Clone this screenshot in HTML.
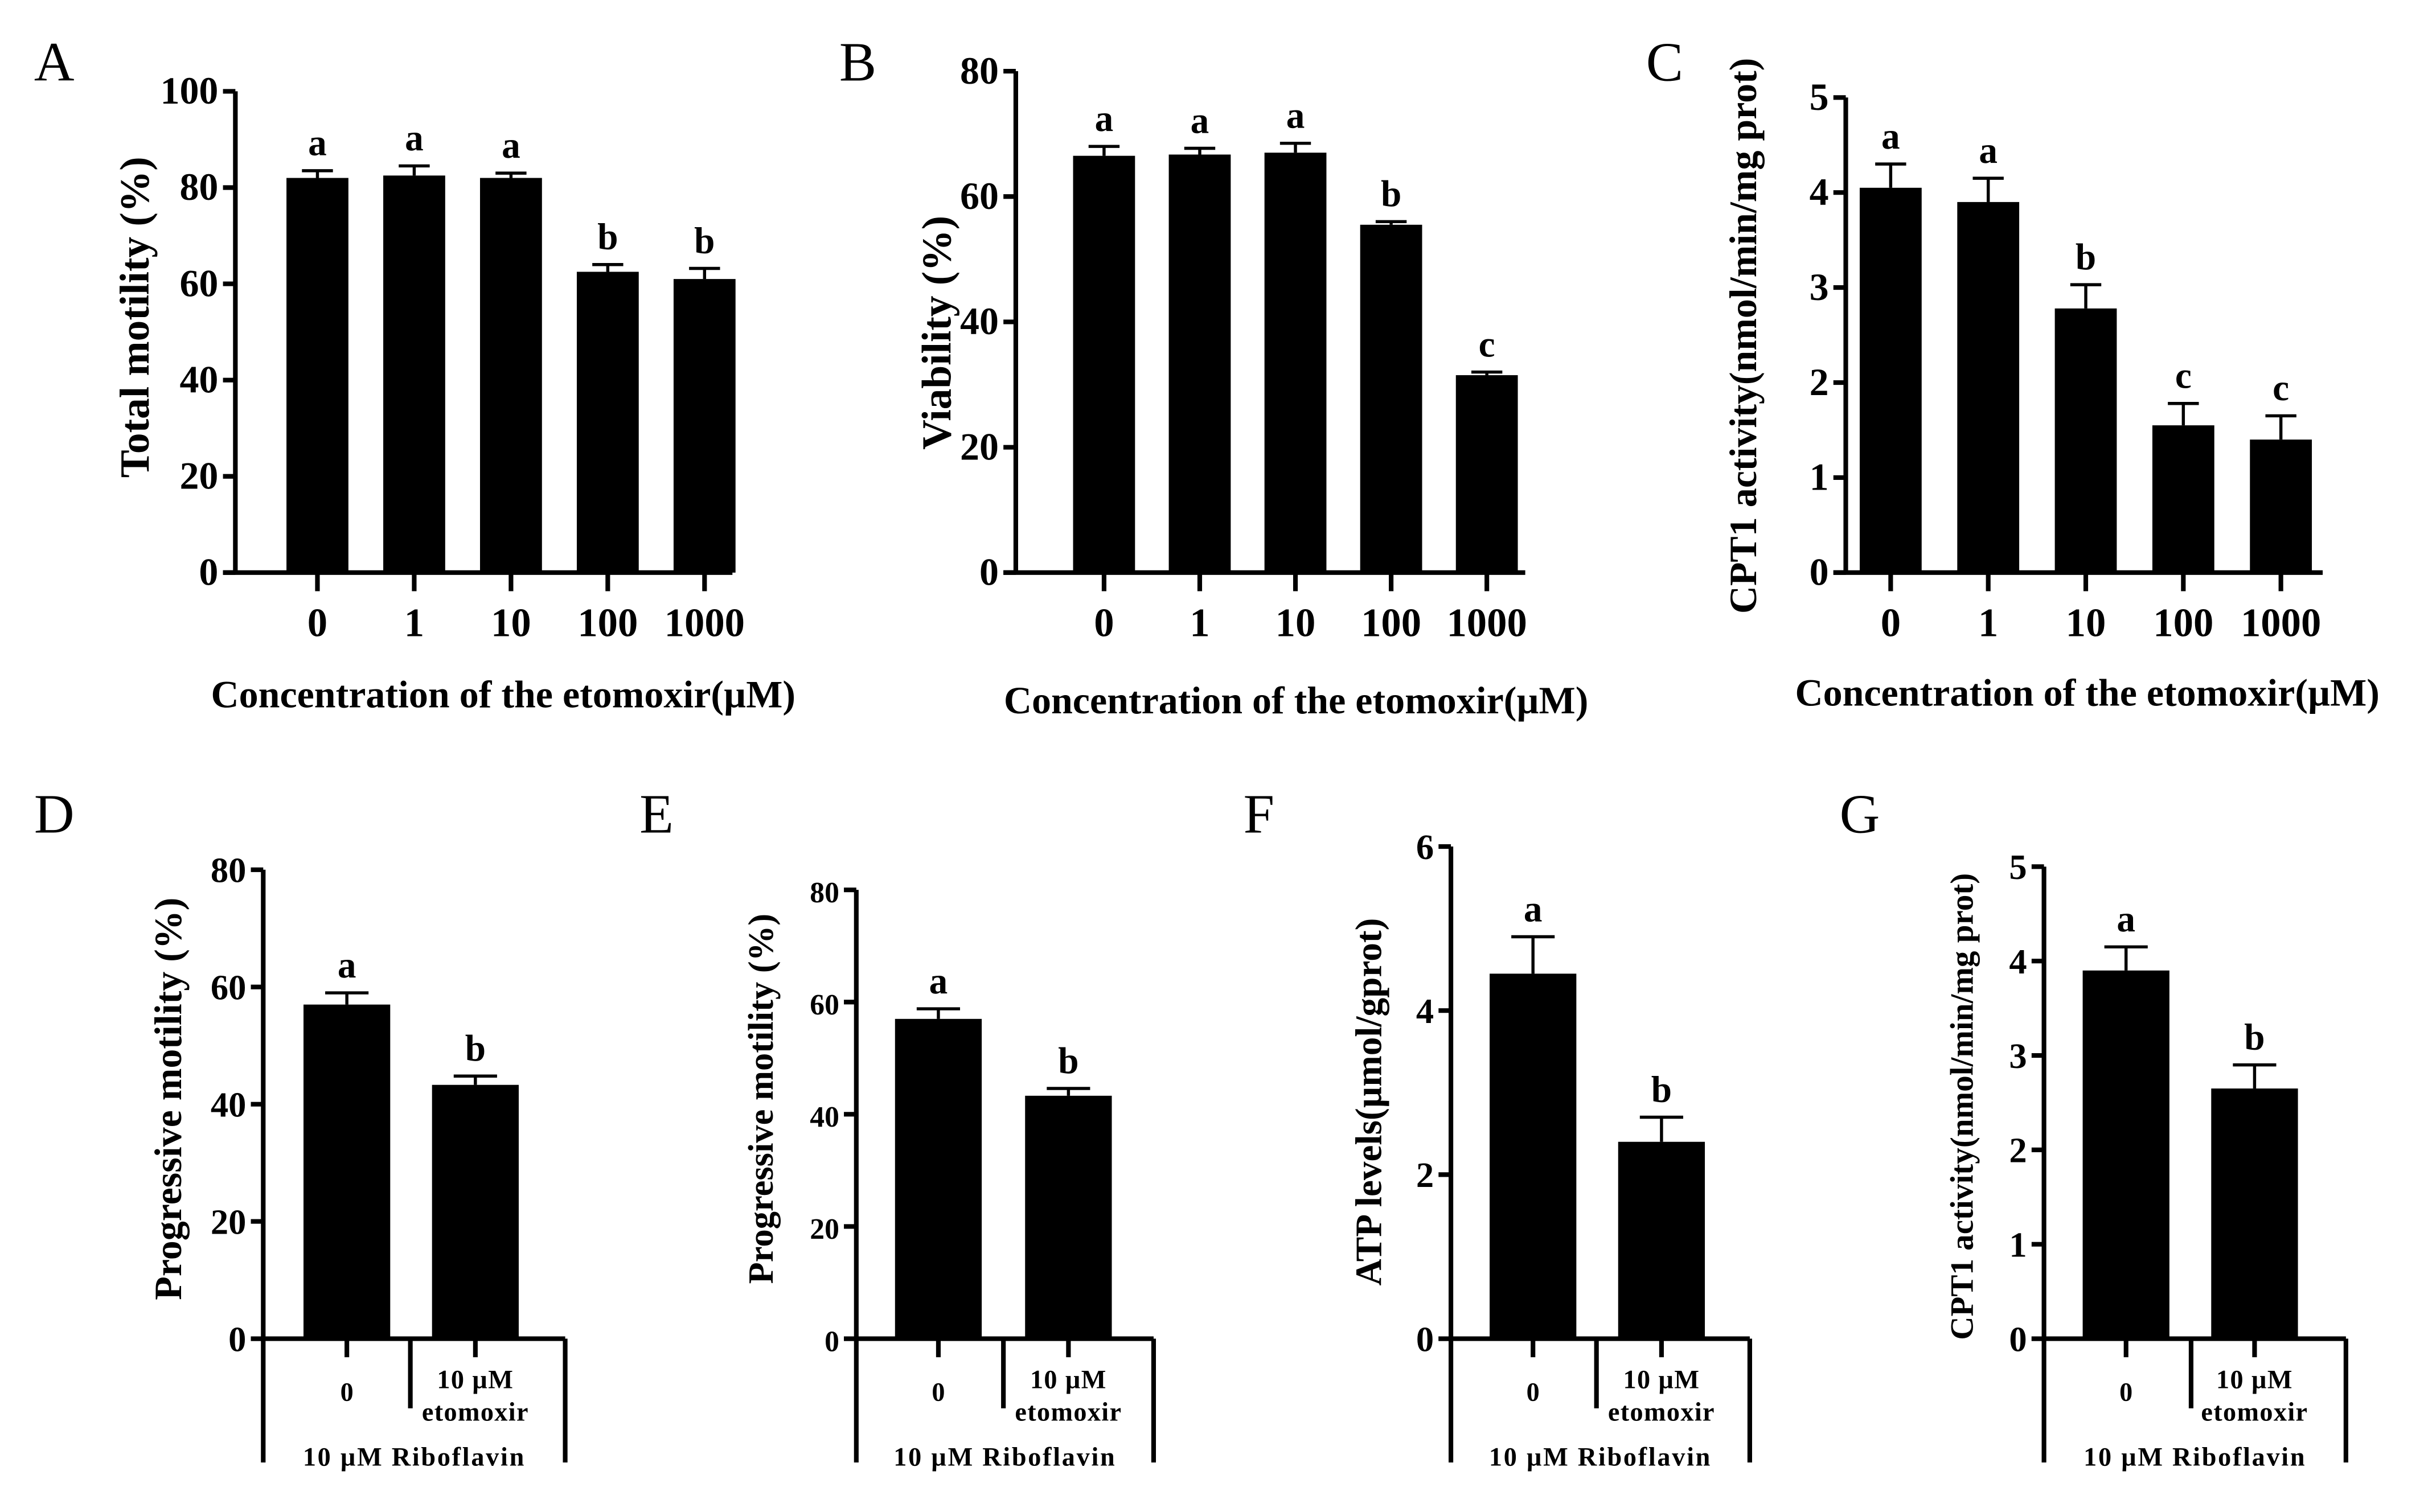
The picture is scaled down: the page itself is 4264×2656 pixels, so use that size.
<!DOCTYPE html>
<html><head><meta charset="utf-8">
<style>
html,body{margin:0;padding:0;background:#fff;}
svg{display:block;}
text{font-family:"Liberation Serif",serif;}
</style></head>
<body>
<svg id="fig" xmlns="http://www.w3.org/2000/svg" width="4264" height="2656" viewBox="0 0 1568 977" preserveAspectRatio="none"></svg>
<script>
// ---- data ----
const catsTop = ["0","1","10","100","1000"];
const catsBottom = ["0","10 µM|etomoxir"];
const valsA = [82, 82.5, 82, 62.5, 61];
const errsA = [1.5, 2, 1, 1.5, 2.2];
const sigA = ["a","a","a","b","b"];
const ticksA = [0,20,40,60,80,100];
const valsB = [66.5, 66.7, 67, 55.5, 31.5];
const errsB = [1.5, 1, 1.5, 0.5, 0.5];
const sigB = ["a","a","a","b","c"];
const ticksB = [0,20,40,60,80];
const valsC = [4.05, 3.9, 2.78, 1.55, 1.4];
const errsC = [0.25, 0.25, 0.25, 0.23, 0.25];
const sigC = ["a","a","b","c","c"];
const ticksC = [0,1,2,3,4,5];
const valsD = [57, 43.3];
const errsD = [2, 1.5];
const valsE = [57, 43.3];
const errsE = [1.8, 1.3];
const valsF = [4.45, 2.4];
const errsF = [0.45, 0.3];
const valsG = [3.9, 2.65];
const errsG = [0.25, 0.25];
const sigAB = ["a","b"];
const ticks80 = [0,20,40,60,80];
const ticks6 = [0,2,4,6];

const NS = "http://www.w3.org/2000/svg";
const svg = document.getElementById('fig');
function el(tag, attrs, parent, txt){
  const e = document.createElementNS(NS, tag);
  for (const k in attrs) e.setAttribute(k, attrs[k]);
  if (txt !== undefined) e.textContent = txt;
  (parent||svg).appendChild(e);
  return e;
}

function panel(cfg){
  const g = el('g', {});
  
  
  const ymax = cfg.ticks[cfg.ticks.length-1];
  const y = v => cfg.y0 - (v / ymax) * (cfg.y0 - cfg.ytop);
  const x = i => cfg.x0c + i * cfg.step;
  const L = el('text', {x: cfg.lx, y: cfg.ly, 'font-size': 36, fill: '#000'}, g, cfg.id);
  
  
  const ya = el('line', {x1: cfg.ax, y1: cfg.ytop, x2: cfg.ax, y2: cfg.y0 + (cfg.bracket ? 80 : 0), stroke: '#000', 'stroke-width': 3}, g);
  
  
  cfg.ticks.forEach(t => {
    el('line', {x1: cfg.ax - 8, y1: y(t), x2: cfg.ax, y2: y(t), stroke: '#000', 'stroke-width': 3}, g);
    const tl = el('text', {x: cfg.ax - 11, y: y(t) + 8, 'font-size': cfg.tfs, 'font-weight': 'bold', 'text-anchor': 'end'}, g, String(t));
    
    
  });
  const xa = el('line', {x1: cfg.ax - 8, y1: cfg.y0, x2: cfg.xend, y2: cfg.y0, stroke: '#000', 'stroke-width': 3}, g);
  
  
  cfg.vals.forEach((v, i) => {
    const cx = x(i);
    const top = y(v);
    const r = el('rect', {x: cx - cfg.bw/2, y: top, width: cfg.bw, height: cfg.y0 - top, fill: '#000'}, g);
    
    
    const et = y(v + cfg.errs[i]);
    el('line', {x1: cx, y1: top, x2: cx, y2: et, stroke: '#000', 'stroke-width': 2}, g);
    el('line', {x1: cx - cfg.bw*0.25, y1: et, x2: cx + cfg.bw*0.25, y2: et, stroke: '#000', 'stroke-width': 2}, g);
    const s = el('text', {x: cx, y: et - 10, 'font-size': 24, 'font-weight': 'bold', 'text-anchor': 'middle'}, g, cfg.sig[i]);
    
    
    el('line', {x1: cx, y1: cfg.y0, x2: cx, y2: cfg.y0 + 12, stroke: '#000', 'stroke-width': 3}, g);
    const parts = cfg.cats[i].split('|');
    if (!cfg.bracket) {
      const tl = el('text', {x: cx, y: cfg.y0 + 41, 'font-size': 26, 'font-weight': 'bold', 'text-anchor': 'middle'}, g, parts[0]);
      
      
    } else if (parts.length === 1) {
      const tl = el('text', {x: cx, y: cfg.y0 + 40, 'font-size': 17, 'font-weight': 'bold', 'text-anchor': 'middle'}, g, parts[0]);
      
      
    } else {
      const tl = el('text', {x: cx, y: cfg.y0 + 32, 'font-size': 17, 'font-weight': 'bold', 'text-anchor': 'middle', 'letter-spacing': 0.5}, g, parts[0]);
      
      
      const tl2 = el('text', {x: cx, y: cfg.y0 + 53, 'font-size': 17, 'font-weight': 'bold', 'text-anchor': 'middle', 'letter-spacing': 0.5}, g, parts[1]);
      
      
    }
  });
  if (cfg.bracket) {
    el('line', {x1: cfg.xend, y1: cfg.y0, x2: cfg.xend, y2: cfg.y0 + 80, stroke: '#000', 'stroke-width': 3}, g);
    el('line', {x1: cfg.div, y1: cfg.y0, x2: cfg.div, y2: cfg.y0 + 45, stroke: '#000', 'stroke-width': 3}, g);
    const rb = el('text', {x: (cfg.ax + cfg.xend)/2, y: cfg.y0 + 82, 'font-size': 17, 'font-weight': 'bold', 'text-anchor': 'middle', 'letter-spacing': 1}, g, '10 µM Riboflavin');
    
    
  } else {
    const xt = el('text', {x: cfg.xtx, y: cfg.xty, 'font-size': 25, 'font-weight': 'bold', 'text-anchor': 'middle'}, g, 'Concentration of the etomoxir(µM)');
    
    
  }
  const yt = el('text', {x: 0, y: 0, 'font-size': cfg.yfs, 'font-weight': 'bold', 'text-anchor': 'middle',
    transform: `translate(${cfg.ytx},${cfg.yty}) rotate(-90)`}, g, cfg.ytitle);
  
  
}

panel({id:'A', lx:22, ly:52, ax:152, ytop:59, y0:370, xend:473, x0c:205, step:62.5, bw:40,
  vals:valsA, errs:errsA, sig:sigA, ticks:ticksA, cats:catsTop, tfs:25,
  xtx:325, xty:457, ytx:96, yty:205, yfs:27, ytitle:'Total motility (%)'});
panel({id:'B', lx:542, ly:52, ax:656, ytop:46, y0:370, xend:985, x0c:713, step:61.8, bw:40,
  vals:valsB, errs:errsB, sig:sigB, ticks:ticksB, cats:catsTop, tfs:25,
  xtx:837, xty:461, ytx:614, yty:215, yfs:27, ytitle:'Viability (%)'});
panel({id:'C', lx:1063, ly:52, ax:1192, ytop:63, y0:370, xend:1500, x0c:1221, step:63, bw:40,
  vals:valsC, errs:errsC, sig:sigC, ticks:ticksC, cats:catsTop, tfs:25,
  xtx:1348, xty:456, ytx:1134, yty:217, yfs:25, ytitle:'CPT1 activity(nmol/min/mg prot)'});
panel({id:'D', lx:22, ly:538, ax:170, ytop:562, y0:865, xend:365, div:265, x0c:224, step:83, bw:56, bracket:true,
  vals:valsD, errs:errsD, sig:sigAB, ticks:ticks80, cats:catsBottom, tfs:23,
  ytx:117, yty:710, yfs:25, ytitle:'Progressive motility (%)'});
panel({id:'E', lx:413, ly:538, ax:553, ytop:575, y0:865, xend:745, div:648, x0c:606, step:84, bw:56, bracket:true,
  vals:valsE, errs:errsE, sig:sigAB, ticks:ticks80, cats:catsBottom, tfs:19,
  ytx:499, yty:710, yfs:23, ytitle:'Progressive motility (%)'});
panel({id:'F', lx:803, ly:538, ax:937, ytop:547, y0:865, xend:1130, div:1031, x0c:990, step:83, bw:56, bracket:true,
  vals:valsF, errs:errsF, sig:sigAB, ticks:ticks6, cats:catsBottom, tfs:23,
  ytx:892, yty:712, yfs:24, ytitle:'ATP levels(µmol/gprot)'});
panel({id:'G', lx:1188, ly:538, ax:1320, ytop:560, y0:865, xend:1515, div:1415, x0c:1373, step:83, bw:56, bracket:true,
  vals:valsG, errs:errsG, sig:sigAB, ticks:ticksC, cats:catsBottom, tfs:23,
  ytx:1274, yty:715, yfs:21, ytitle:'CPT1 activity(nmol/min/mg prot)'});
</script>
</body></html>
